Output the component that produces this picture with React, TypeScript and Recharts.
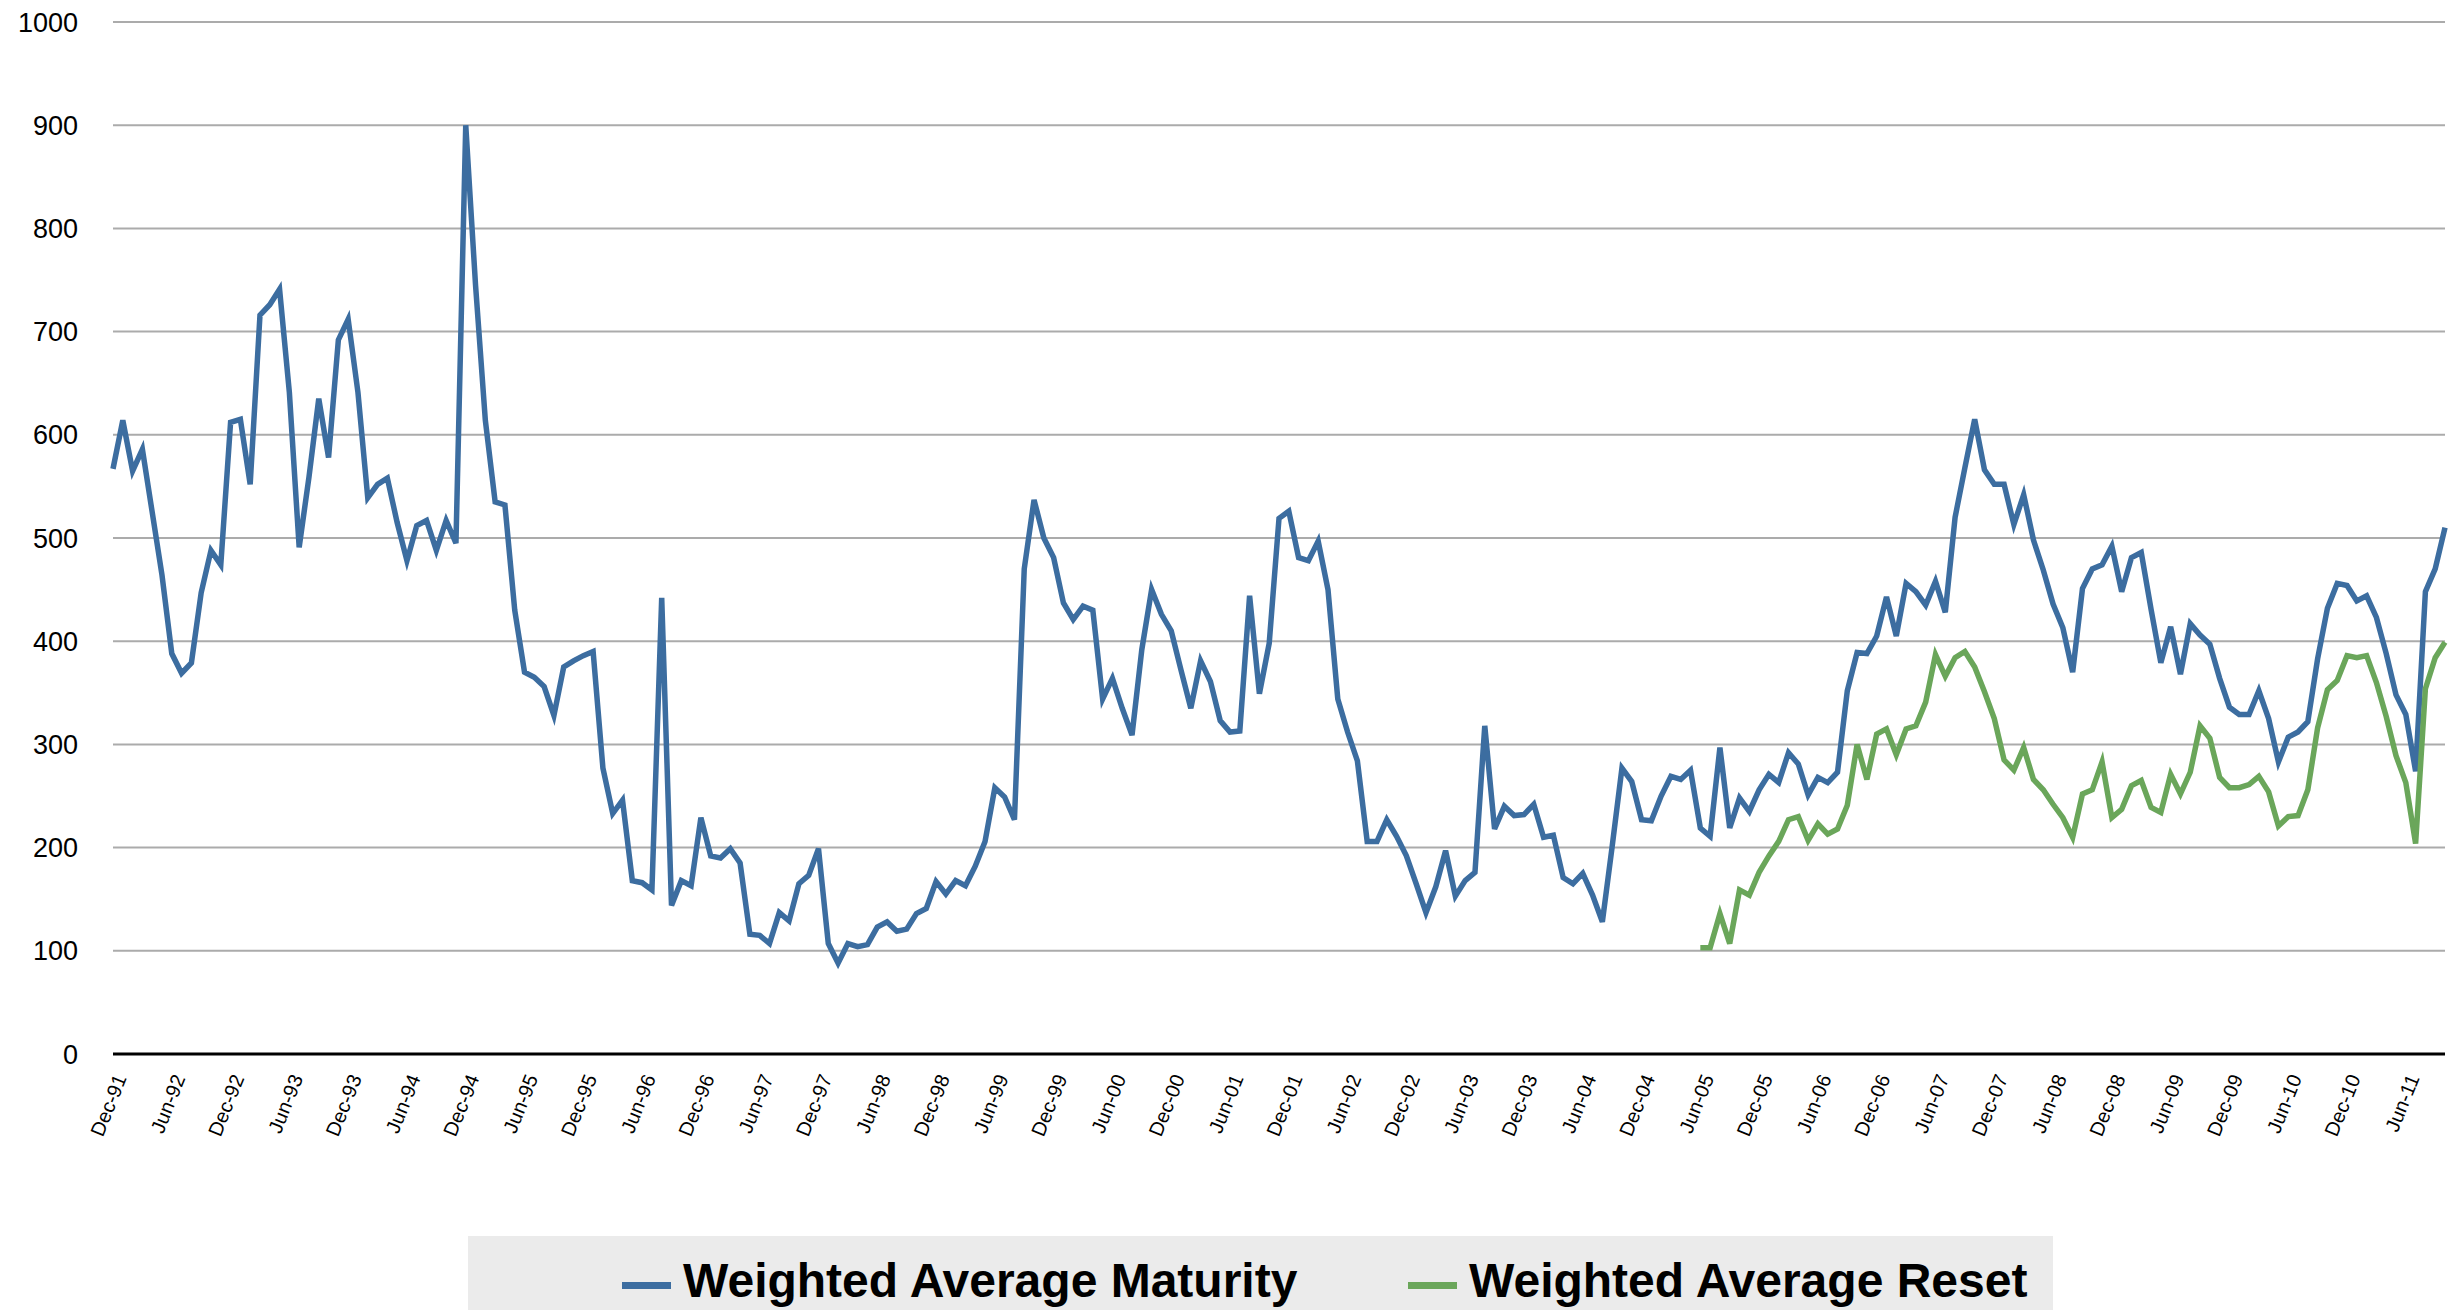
import React from 'react';
import { LineChart, Line, XAxis, YAxis, CartesianGrid, Legend } from 'recharts';

const MONTH_NAMES = ['Jan', 'Feb', 'Mar', 'Apr', 'May', 'Jun', 'Jul', 'Aug', 'Sep', 'Oct', 'Nov', 'Dec'];

// Weighted Average Maturity, monthly Dec-91 .. Oct-11
const maturity: number[] = [
  567, 614, 565, 586, 525, 464, 388, 369, 379, 447, 488, 474,
  612, 615, 552, 716, 726, 741, 641, 491, 559, 635, 578, 692,
  712, 641, 539, 552, 558, 515, 478, 512, 517, 488, 517, 495,
  900, 745, 614, 535, 532, 430, 370, 365, 356, 328, 375, 381,
  386, 390, 277, 233, 246, 168, 166, 159, 442, 144, 168, 163,
  229, 192, 190, 199, 185, 116, 115, 107, 137, 129, 165, 173,
  199, 107, 88, 107, 104, 106, 123, 128, 119, 121, 136, 141,
  167, 155, 168, 163, 182, 206, 258, 249, 227, 470, 537, 500,
  481, 437, 421, 434, 430, 344, 364, 335, 309, 392, 450, 426,
  410, 372, 335, 381, 361, 323, 312, 313, 444, 349, 398, 519,
  526, 481, 478, 497, 450, 344, 312, 284, 206, 206, 227, 211,
  192, 165, 137, 162, 197, 153, 168, 176, 318, 218, 240, 231,
  232, 242, 210, 212, 171, 165, 175, 154, 128, 201, 277, 264,
  227, 226, 250, 269, 266, 275, 219, 211, 297, 219, 248, 235,
  256, 271, 263, 292, 281, 251, 268, 263, 273, 352, 389, 388,
  405, 443, 405, 456, 448, 435, 458, 428, 520, 568, 615, 566,
  552, 552, 513, 542, 498, 469, 436, 413, 370, 451, 470, 474,
  492, 448, 481, 486, 431, 379, 414, 368, 417, 406, 397, 364,
  336, 329, 329, 352, 325, 283, 307, 312, 322, 383, 432, 456,
  454, 439, 444, 423, 388, 348, 329, 274, 448, 470, 510,
];

// Weighted Average Reset, monthly Jun-05 .. Oct-11
const resetStartIndex = 162;
const reset: number[] = [
  103, 103, 136, 107, 159, 154, 176, 192, 206, 227, 230, 207,
  223, 213, 218, 241, 300, 266, 310, 315, 290, 315, 318, 341,
  387, 366, 384, 390, 375, 351, 325, 285, 275, 297, 266, 256,
  242, 229, 210, 252, 256, 283, 229, 237, 260, 265, 239, 234,
  271, 252, 273, 318, 306, 268, 258, 258, 261, 269, 254, 221,
  230, 231, 256, 316, 353, 362, 386, 384, 386, 360, 327, 289,
  263, 204, 354, 384, 399,
];

const yTicks: number[] = [0, 100, 200, 300, 400, 500, 600, 700, 800, 900, 1000];
const seriesNames: string[] = ['Weighted Average Maturity', 'Weighted Average Reset'];
const seriesColors: string[] = ['#3c6da0', '#6aa65a'];

const months: string[] = maturity.map((_, i) => {
  const total = 1991 * 12 + 11 + i;
  const yr = Math.floor(total / 12);
  const mo = total % 12;
  return `${MONTH_NAMES[mo]}-${String(yr % 100).padStart(2, '0')}`;
});

const data = months.map((m, i) => ({
  month: m,
  wam: maturity[i],
  war: i >= resetStartIndex ? reset[i - resetStartIndex] : null,
}));

const FONT = '"Liberation Sans", Arial, Helvetica, sans-serif';

const XTick = (props: any) => {
  const { x, y, payload } = props;
  return (
    <text
      transform={`translate(${x + 14},${y + 24}) rotate(-68)`}
      textAnchor="end"
      fontSize={20}
      fontFamily={FONT}
      fill="#000"
    >
      {payload.value}
    </text>
  );
};

const LegendContent = () => (
  <svg width={1585} height={74} style={{ display: 'block' }}>
    <rect x={0} y={0} width={1585} height={74} fill="#ebebeb" />
    <rect x={154} y={46} width={49} height={7} fill={seriesColors[0]} />
    <text x={215} y={61} fontSize={48} fontWeight="bold" fontFamily={FONT} fill="#000">
      {seriesNames[0]}
    </text>
    <rect x={940} y={46} width={49} height={7} fill={seriesColors[1]} />
    <text x={1001} y={61} fontSize={48} fontWeight="bold" fontFamily={FONT} fill="#000">
      {seriesNames[1]}
    </text>
  </svg>
);

export default function App() {
  return (
    <div style={{ position: 'absolute', left: 0, top: 0, width: 2463, height: 1310, background: '#fff', overflow: 'hidden' }}>
      <LineChart width={2463} height={1310} data={data} margin={{ top: 22, right: 18, left: 0, bottom: 0 }}>
        <CartesianGrid vertical={false} stroke="#ababab" strokeWidth={2} />
        <XAxis
          dataKey="month"
          interval={5}
          height={256}
          tickLine={false}
          tickSize={0}
          tickMargin={0}
          axisLine={{ stroke: '#000', strokeWidth: 3 }}
          tick={<XTick />}
        />
        <YAxis
          domain={[0, 1000]}
          ticks={yTicks}
          interval={0}
          width={113}
          axisLine={false}
          tickLine={false}
          tickSize={0}
          tickMargin={35}
          tick={{ fontSize: 27, fill: '#000', fontFamily: FONT }}
        />
        <Legend
          layout="horizontal"
          align="center"
          verticalAlign="middle"
          content={<LegendContent />}
          wrapperStyle={{ left: 468, top: 1236, width: 1585, height: 74 }}
        />
        <Line
          type="linear"
          dataKey="wam"
          name={seriesNames[0]}
          stroke={seriesColors[0]}
          strokeWidth={5.5}
          dot={false}
          isAnimationActive={false}
        />
        <Line
          type="linear"
          dataKey="war"
          name={seriesNames[1]}
          stroke={seriesColors[1]}
          strokeWidth={5.5}
          dot={false}
          connectNulls={false}
          isAnimationActive={false}
        />
      </LineChart>
    </div>
  );
}
